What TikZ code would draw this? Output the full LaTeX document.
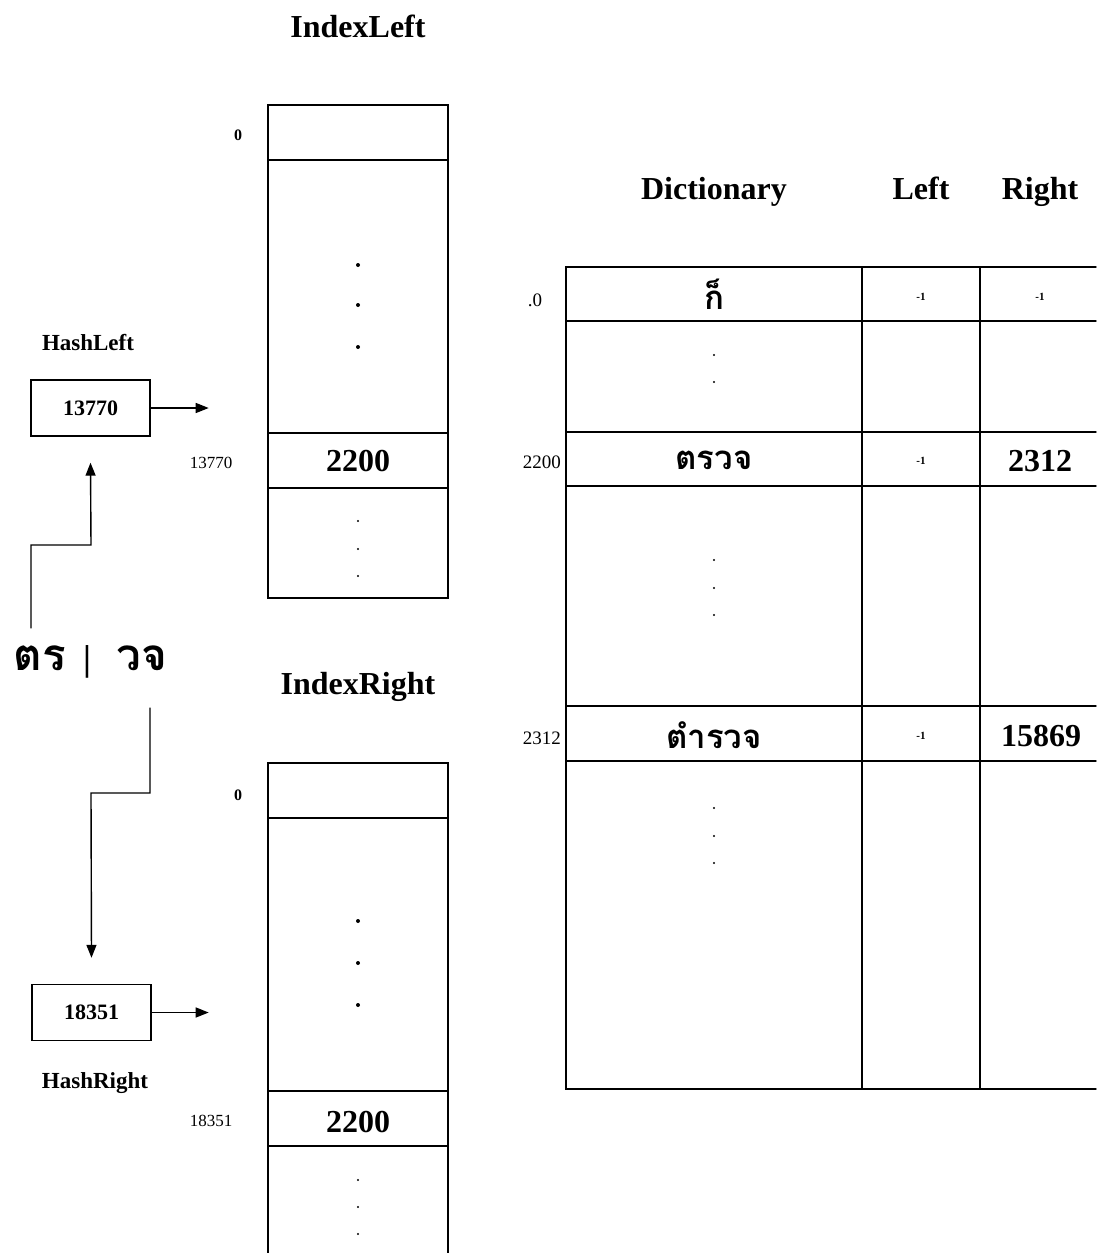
\documentclass[tikz,border=0pt]{standalone}
\usepackage{fontspec}
\setmainfont{Liberation Serif}
\newfontfamily\thaifont[Script=Thai]{Loma}
\usetikzlibrary{arrows.meta,calc,positioning}

\begin{document}
\begin{tikzpicture}[x=1pt,y=1pt,line cap=round,line width=1.4pt,
  title/.style={font=\fontsize{32}{36}\selectfont\bfseries,anchor=base},
  subtitle/.style={font=\fontsize{23}{26}\selectfont\bfseries},
  hashbox/.style={draw,minimum width=119pt,minimum height=56pt,inner sep=0pt,font=\fontsize{22}{26}\selectfont\bfseries},
  cellnum/.style={font=\fontsize{32}{36}\selectfont\bfseries},
  rowlbl/.style={font=\fontsize{17}{20}\selectfont},
  dictlbl/.style={font=\fontsize{19}{22}\selectfont},
  zerolbl/.style={font=\fontsize{16}{18}\selectfont\bfseries},
  minus/.style={font=\fontsize{11}{12}\selectfont\bfseries},
  thaicell/.style={font=\thaifont\fontsize{33}{38}\selectfont\bfseries},
  thaiword/.style={font=\thaifont\fontsize{44}{50}\selectfont\bfseries},
  flow/.style={-{Triangle[length=13pt,width=10pt]}},
  bigdot/.style={circle,fill,inner sep=0pt,minimum size=4pt},
  smalldot/.style={circle,fill,inner sep=0pt,minimum size=2.4pt}]
  \useasboundingbox (0,0) rectangle (1096,-1253);

  % titles
  \node[title] (tIdxL) at (358,-37) {IndexLeft};
  \node[title] (tIdxR) at (358,-694) {IndexRight};
  \node[title] (tDict) at (714,-199) {Dictionary};
  \node[title] (tLeft) at (921,-199) {Left};
  \node[title] (tRight) at (1040,-199) {Right};

  % hash boxes
  \node[subtitle] (tHashL) at (88,-343) {HashLeft};
  \node[hashbox] (hashL) at (90.5,-408) {13770};
  \node[hashbox] (hashR) at (91.5,-1012.5) {18351};
  \node[subtitle] (tHashR) at (95,-1083) {HashRight};
  \draw[flow] (hashL.east) -- ++(58,0);
  \draw[flow] (hashR.east) -- ++(57,0);

  % split word
  \node[thaiword] (wordL) at (40,-658) {ตร};
  \node[font=\fontsize{36}{40}\selectfont\bfseries] (bar) at (87,-662) {|};
  \node[thaiword] (wordR) at (142,-658) {วจ};
  \draw[flow] (31,-628) |- (91,-545) -- ([yshift=-26pt]hashL.south);
  \draw[flow] (150,-708) |- (91,-793) -- ([yshift=26pt]hashR.north);

  % IndexLeft table
  \draw (268,-105) rectangle (448,-598);
  \foreach \y in {160,433,488} \draw (268,-\y) -- (448,-\y);
  \node[zerolbl] (zL) at (238,-135) {0};
  \node[rowlbl] (rL) at (211,-463) {13770};
  \node[cellnum] (idxL) at (358,-461) {2200};
  \foreach \y in {265,305,347} \node[bigdot] at (358,-\y) {};
  \foreach \y in {521,549,576} \node[smalldot] at (358,-\y) {};

  % IndexRight table
  \draw (268,-1253) -- (268,-763) -- (448,-763) -- (448,-1253);
  \foreach \y in {818,1091,1146} \draw (268,-\y) -- (448,-\y);
  \node[zerolbl] (zR) at (238,-795) {0};
  \node[rowlbl] (rR) at (211,-1121) {18351};
  \node[cellnum] (idxR) at (358,-1122) {2200};
  \foreach \y in {921,963,1005} \node[bigdot] at (358,-\y) {};
  \foreach \y in {1180,1207,1234} \node[smalldot] at (358,-\y) {};

  % Dictionary table
  \draw (1096,-267) -- (566,-267) -- (566,-1089) -- (1096,-1089);
  \foreach \x in {862,980} \draw (\x,-267) -- (\x,-1089);
  \foreach \y in {321,432,486,706,761} \draw (566,-\y) -- (1096,-\y);
  \node[dictlbl] (d0) at (535,-300) {.0};
  \node[dictlbl,anchor=east] (d2200) at (565,-462) {2200};
  \node[dictlbl,anchor=east] (d2312) at (565,-738) {2312};
  \node[thaicell] (w0) at (714,-294) {ก็};
  \node[minus] (l0) at (921,-297) {-1};
  \node[minus] (r0) at (1040,-297) {-1};
  \node[thaicell] (w2200) at (714,-460) {ตรวจ};
  \node[minus] (l2200) at (921,-461) {-1};
  \node[cellnum] (r2200) at (1040,-461) {2312};
  \node[thaicell] (w2312) at (714,-735) {ตำรวจ};
  \node[minus] (l2312) at (921,-736) {-1};
  \node[cellnum] (r2312) at (1041,-736) {15869};
  \foreach \y in {355,382,560,588,615,808,836,863} \node[smalldot] at (714,-\y) {};
\end{tikzpicture}
\end{document}
